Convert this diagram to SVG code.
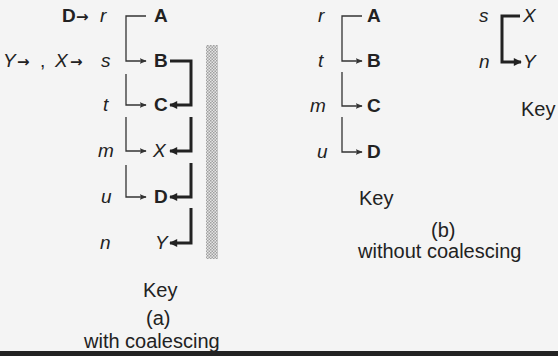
<svg xmlns="http://www.w3.org/2000/svg" width="558" height="356" viewBox="0 0 558 356">
<style>
.t{font-family:"Liberation Sans",Arial,sans-serif;font-size:19px;fill:#222}
.b{font-weight:bold}
.i{font-style:italic}
.arr{font-family:"DejaVu Sans",sans-serif;font-size:15px;font-weight:bold;fill:#222}
.lbl{font-family:"Liberation Sans",Arial,sans-serif;font-size:20px;fill:#222}
.thin{fill:none;stroke:#333;stroke-width:1.3}
.thick{fill:none;stroke:#222;stroke-width:3}
</style>
<defs>
<marker id="ah" viewBox="0 0 10 10" refX="9" refY="5" markerWidth="7" markerHeight="7" markerUnits="userSpaceOnUse" orient="auto">
<path d="M0,1 L10,5 L0,9 L2,5 Z" fill="#333"/>
</marker>
<marker id="ahk" viewBox="0 0 10 10" refX="9" refY="5" markerWidth="10" markerHeight="8" markerUnits="userSpaceOnUse" orient="auto">
<path d="M0,0 L10,5 L0,10 Z" fill="#222"/>
</marker>
<pattern id="dots" width="3" height="3" patternUnits="userSpaceOnUse">
<rect width="3" height="3" fill="#e4e4e4"/>
<rect width="1.5" height="1.5" fill="#a0a0a0"/>
<rect x="1.5" y="1.5" width="1.5" height="1.5" fill="#a0a0a0"/>
</pattern>
</defs>
<rect width="558" height="356" fill="#f4f4f4"/>
<rect x="0" y="351" width="558" height="5" fill="#222"/>

<!-- Panel (a) -->
<g id="a-left">
<text class="t" y="22"><tspan class="b" x="62">D</tspan><tspan class="arr" x="76">→</tspan><tspan class="i" x="100">r</tspan></text>
<text class="t" y="67"><tspan class="i" x="3">Y</tspan><tspan class="arr" x="17">→</tspan><tspan x="40">,</tspan><tspan class="i" x="55">X</tspan><tspan class="arr" x="70">→</tspan><tspan class="i" x="101">s</tspan></text>
<text class="t i" x="103" y="111">t</text>
<text class="t i" x="98" y="157">m</text>
<text class="t i" x="101" y="203">u</text>
<text class="t i" x="100" y="249">n</text>
</g>
<g id="a-A"><text class="t b" x="154" y="22">A</text></g>
<g id="a-B"><text class="t b" x="154" y="67">B</text></g>
<g id="a-C"><text class="t b" x="154" y="111">C</text></g>
<g id="a-X"><text class="t i" x="153" y="157">X</text></g>
<g id="a-D"><text class="t b" x="154" y="203">D</text></g>
<g id="a-Y"><text class="t i" x="155" y="249">Y</text></g>

<g id="a-connectors">
<path class="thin" d="M146,16 H126 V61 H146" marker-end="url(#ah)"/>
<path class="thin" d="M126,74 V105 H146" marker-end="url(#ah)"/>
<path class="thin" d="M126,117 V151 H146" marker-end="url(#ah)"/>
<path class="thin" d="M126,165 V197 H146" marker-end="url(#ah)"/>
<path class="thick" d="M170,61 H191 V105 H170" marker-end="url(#ahk)"/>
<path class="thick" d="M191,117 V151 H170" marker-end="url(#ahk)"/>
<path class="thick" d="M191,163 V197 H170" marker-end="url(#ahk)"/>
<path class="thick" d="M191,208 V243 H170" marker-end="url(#ahk)"/>
</g>

<rect x="206" y="45" width="12" height="214" fill="url(#dots)"/>

<g id="a-caption">
<text class="lbl" x="143" y="297">Key</text>
<text class="lbl" x="146" y="325">(a)</text>
<text class="lbl" x="84" y="348">with coalescing</text>
</g>

<!-- Panel (b) -->
<g id="b-left">
<text class="t i" x="318" y="22">r</text>
<text class="t i" x="318" y="67">t</text>
<text class="t i" x="310" y="112">m</text>
<text class="t i" x="317" y="158">u</text>
</g>
<g id="b-A"><text class="t b" x="367" y="22">A</text></g>
<g id="b-B"><text class="t b" x="367" y="67">B</text></g>
<g id="b-C"><text class="t b" x="367" y="112">C</text></g>
<g id="b-D"><text class="t b" x="367" y="158">D</text></g>
<g id="b-connectors">
<path class="thin" d="M362,16 H342 V61 H362" marker-end="url(#ah)"/>
<path class="thin" d="M342,72 V106 H362" marker-end="url(#ah)"/>
<path class="thin" d="M342,117 V152 H362" marker-end="url(#ah)"/>
</g>
<g id="b-caption">
<text class="lbl" x="359" y="205">Key</text>
<text class="lbl" x="431" y="237">(b)</text>
<text class="lbl" x="358" y="258">without coalescing</text>
</g>

<!-- Key legend -->
<g id="key-legend">
<text class="t i" x="479" y="22">s</text>
<text class="t i" x="479" y="68">n</text>
<text class="t i" x="523" y="22">X</text>
<text class="t i" x="523" y="68">Y</text>
<path class="thick" d="M520,16 H502 V62 H521" marker-end="url(#ahk)"/>
<text class="lbl" x="521" y="116">Key</text>
</g>
</svg>
